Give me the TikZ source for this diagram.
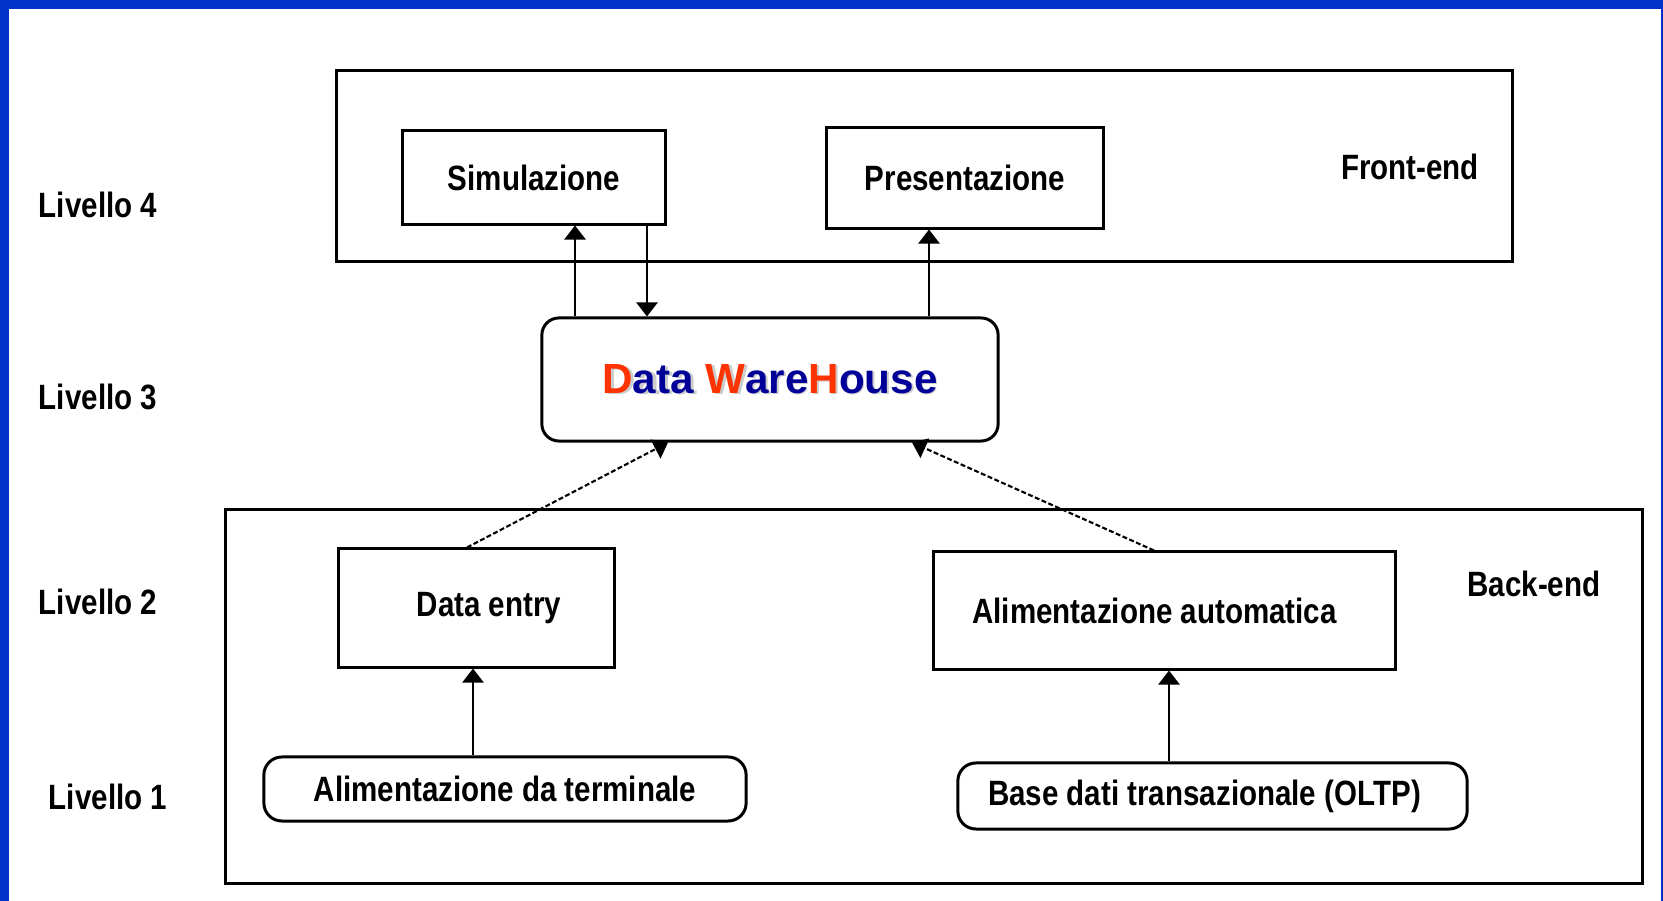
\documentclass[tikz,border=0pt]{standalone}
\usepackage{fontspec}
\setmainfont{Liberation Sans}[FakeStretch=0.84]
\newfontfamily\dwhfont{Liberation Sans}
\usetikzlibrary{arrows.meta}
\definecolor{frameblue}{RGB}{0,51,204}
\definecolor{dwhred}{RGB}{255,51,0}
\definecolor{dwhblue}{RGB}{0,0,153}

\begin{document}
\begin{tikzpicture}[x=0.01cm, y=-0.01cm,
	box/.style={draw, rectangle, line width=0.85pt, inner sep=0pt, font=\bfseries},
	pill/.style={box, rounded corners=0.18cm},
	lvl/.style={font=\bfseries},
	link/.style={line width=0.7pt, -{Triangle[width=6pt, length=4pt]}},
	feed/.style={link, line width=0.6pt, dash pattern=on 1.4pt off 0.7pt}]
				\useasboundingbox (0,0) rectangle (1663,901);
				\fill[white] (0,0) rectangle (1663,901);
				\fill[frameblue] (0,0) rectangle (9,901);
				\fill[frameblue] (0,0) rectangle (1663,9);
				\fill[frameblue] (1661,0) rectangle (1663,901);

				\node[lvl] (L4)at(98, 205) {Livello 4};
				\node[lvl] (L3)at(98, 397) {Livello 3};
				\node[lvl] (L2)at(98, 602) {Livello 2};
				\node[lvl] (L1)at(108, 797) {Livello 1};

				\node[box, minimum width=11.75cm, minimum height=1.9cm] (front)at(924.5, 166) {};
				\node[lvl] (frontlabel)at(1410, 167) {Front-end};
				\node[box, minimum width=2.62cm, minimum height=0.93cm] (simul)at(534, 177.5) {Simulazione};
				\node[box, minimum width=2.76cm, minimum height=1.0cm] (pres)at(965, 178) {Presentazione};

				\node[font=\dwhfont\bfseries\fontsize{12}{14}\selectfont, text=gray!40] (dwhshadow)at(772.5, 380) {Data WareHouse};
				\node[box, rounded corners=0.17cm, minimum width=4.56cm, minimum height=1.23cm, font=\dwhfont\bfseries\fontsize{12}{14}\selectfont, text=dwhblue] (dwh)at(770, 379.5) {\textcolor{dwhred}{D}ata \textcolor{dwhred}{W}are\textcolor{dwhred}{H}ouse};

				\node[box, minimum width=14.16cm, minimum height=3.73cm] (back)at(934, 696.5) {};
				\node[lvl] (backlabel)at(1534, 584) {Back-end};
				\node[box, minimum width=2.75cm, minimum height=1.18cm] (entry)at(476.5, 608) {\kern0.25cm Data entry};
				\node[box, minimum width=4.61cm, minimum height=1.17cm] (auto)at(1164.5, 610.5) {Alimentazione automatica\kern0.2cm};
				\node[pill, minimum width=4.82cm, minimum height=0.64cm] (term)at(505, 789) {Alimentazione da terminale};
				\node[pill, minimum width=5.09cm, minimum height=0.66cm] (oltp)at(1212.5, 796) {Base dati transazionale (OLTP)\kern0.16cm};

				\coordinate (xsimup) at (575, 0);
				\coordinate (xsimdown) at (647, 0);
				\coordinate (xpres) at (929, 0);
				\coordinate (xentry) at (467, 0);
				\coordinate (xdwhleft) at (668, 0);
				\coordinate (xauto) at (1154, 0);
				\coordinate (xdwhright) at (912, 0);
				\coordinate (xterm) at (473, 0);
				\coordinate (xoltp) at (1169, 0);

				\draw[link] (dwh.north -| xsimup) -- (simul.south -| xsimup);
				\draw[link] (simul.south -| xsimdown) -- (dwh.north -| xsimdown);
				\draw[link] (dwh.north -| xpres) -- (pres.south -| xpres);
				\draw[feed] (entry.north -| xentry) -- (dwh.south -| xdwhleft);
				\draw[feed] (auto.north -| xauto) -- (dwh.south -| xdwhright);
				\draw[link] (term.north -| xterm) -- (entry.south -| xterm);
				\draw[link] (oltp.north -| xoltp) -- (auto.south -| xoltp);
			\end{tikzpicture}
\end{document}
